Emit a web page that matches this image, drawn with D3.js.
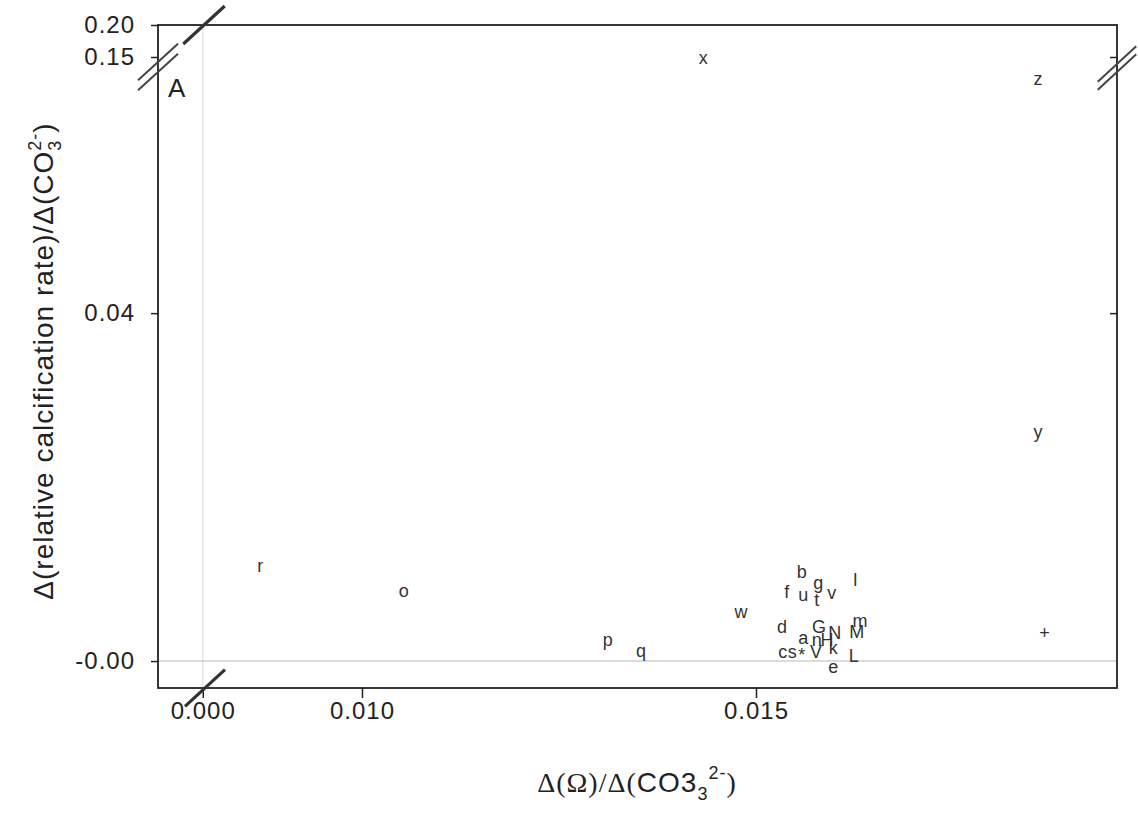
<!DOCTYPE html>
<html>
<head>
<meta charset="utf-8">
<script src="https://cdn.jsdelivr.net/npm/d3@7"></script>
<style>
  body { margin: 0; background: #fff; }
  svg text { font-family: "Liberation Sans", Arial, Helvetica, sans-serif; }
  .tick text { font-size: 24px; fill: #222; letter-spacing: 1px; }
  .tick line { stroke: #222; stroke-width: 1.5; }
  .pt { font-size: 18px; fill: #333; }
</style>
</head>
<body>
<div id="chart"></div>
<script>
// --- Data ---
const labels = ["x", "z", "y", "r", "o", "p", "q", "w", "+", "b", "g", "l", "f", "u", "t", "v",
                "d", "G", "N", "m", "M", "a", "n", "H", "c", "s", "*", "V", "k", "L", "e"];
const xVals = [0.01433, 0.01858, 0.01858, 0.00871, 0.01053, 0.01312, 0.01354, 0.01481, 0.01866,
               0.01558, 0.01579, 0.01626, 0.01539, 0.01560, 0.01577, 0.01596,
               0.01533, 0.01580, 0.01600, 0.01632, 0.01628, 0.01560, 0.01577, 0.01590,
               0.01534, 0.01546, 0.01558, 0.01576, 0.01598, 0.01624, 0.01598];
const yVals = [0.1484, 0.0669, 0.02632, 0.01092, 0.00805, 0.00241, 0.00115, 0.00563, 0.00322,
               0.01023, 0.00897, 0.00931, 0.00793, 0.00759, 0.00701, 0.00782,
               0.00391, 0.00391, 0.00322, 0.00460, 0.00333, 0.00264, 0.00241, 0.00241,
               0.00103, 0.00103, 0.00130, 0.00103, 0.00149, 0.00057, -0.00069];

const xTicks = [0.000, 0.010, 0.015];
const xTickLabels = ["0.000", "0.010", "0.015"];
const yTicks = [0.00, 0.04, 0.15, 0.20];
const yTickLabels = ["-0.00", "0.04", "0.15", "0.20"];

// broken-axis domains: [min, gapLow, gapHigh, max]
const xDomain = [-0.0006, 0.00003, 0.008008, 0.019581];
const yDomain = [-0.0031, 0.0683, 0.1344, 0.20];

const W = 1138, H = 813;
const pLeft = 158, pRight = 1117, pTop = 25, pBottom = 688;

const svg = d3.select("#chart").append("svg")
    .attr("width", W)
    .attr("height", H);

// piecewise scales with a gap at the break
const xGap = 205, yGap = 67;
const x = d3.scaleLinear().domain(xDomain).range([pLeft, xGap, xGap, pRight]);
const y = d3.scaleLinear().domain(yDomain).range([pBottom, yGap, yGap, pTop]);

// --- reference lines at zero ---
svg.append("line")
    .attr("x1", x(0)).attr("x2", x(0))
    .attr("y1", pTop).attr("y2", pBottom)
    .attr("stroke", "#e2e2e2").attr("stroke-width", 1.2);
svg.append("line")
    .attr("x1", pLeft).attr("x2", pRight)
    .attr("y1", y(0)).attr("y2", y(0))
    .attr("stroke", "#cfcfcf").attr("stroke-width", 1.5);

// --- axes ---
const xAxis = svg.append("g")
    .attr("transform", `translate(0,${pBottom})`)
    .call(d3.axisBottom(x).tickValues(xTicks).tickSize(10).tickPadding(4)
        .tickFormat((d, i) => xTickLabels[i]));
xAxis.select(".domain").remove();

const yAxis = svg.append("g")
    .attr("transform", `translate(${pLeft},0)`)
    .call(d3.axisLeft(y).tickValues(yTicks).tickSize(7).tickPadding(16)
        .tickFormat((d, i) => yTickLabels[i]));
yAxis.select(".domain").remove();

// right side: inward ticks, no labels
const yAxisR = svg.append("g")
    .attr("transform", `translate(${pRight},0)`)
    .call(d3.axisLeft(y).tickValues([0.04, 0.15]).tickSize(7).tickFormat(""));
yAxisR.select(".domain").remove();

// frame
svg.append("rect")
    .attr("x", pLeft).attr("y", pTop)
    .attr("width", pRight - pLeft).attr("height", pBottom - pTop)
    .attr("fill", "none").attr("stroke", "#222").attr("stroke-width", 1.8);

// --- axis break marks ---
function slash(cx, cy, len, w, col) {
    svg.append("line")
        .attr("x1", cx - len * 0.74).attr("y1", cy + len * 0.68)
        .attr("x2", cx + len * 0.74).attr("y2", cy - len * 0.68)
        .attr("stroke", col).attr("stroke-width", w);
}
slash(xGap - 1, pTop, 28, 3.2, "#333");
slash(xGap, pBottom, 27, 3.2, "#333");
slash(pLeft, yGap - 5, 27, 2, "#444");
slash(pLeft, yGap + 5, 27, 2, "#444");
slash(pRight, yGap - 3, 26, 2, "#444");
slash(pRight, yGap + 5, 26, 2, "#444");

// --- point labels ---
svg.selectAll(".pt")
    .data(labels.map((l, i) => ({ l, x: xVals[i], y: yVals[i] })))
    .enter().append("text")
    .attr("class", "pt")
    .attr("x", d => x(d.x))
    .attr("y", d => y(d.y))
    .attr("dy", d => d.l === "*" ? "0.6em" : "0.35em")
    .attr("text-anchor", "middle")
    .text(d => d.l);

// panel letter
svg.append("text")
    .attr("x", 168).attr("y", 97)
    .attr("font-size", 26).attr("fill", "#222")
    .attr("letter-spacing", 1)
    .text("A");

// --- axis titles ---
const yt = svg.append("text")
    .attr("transform", "translate(53,361) rotate(-90)")
    .attr("text-anchor", "middle")
    .attr("font-size", 28).attr("fill", "#222")
    .attr("letter-spacing", 1);
yt.append("tspan").text("Δ(relative calcification rate)/Δ(CO");
yt.append("tspan").attr("font-size", 18).attr("dy", 8).text("3");
yt.append("tspan").attr("font-size", 18).attr("dy", -20).attr("dx", -11).text("2-");
yt.append("tspan").attr("dy", 12).text(")");

const xt = svg.append("text")
    .attr("x", 637).attr("y", 792)
    .attr("text-anchor", "middle")
    .attr("font-size", 28).attr("fill", "#222")
    .attr("letter-spacing", 1);
xt.append("tspan").attr("font-family", "Liberation Serif, Times New Roman, serif").text("Δ(Ω)/Δ(");
xt.append("tspan").text("CO3");
xt.append("tspan").attr("font-size", 18).attr("dy", 8).text("3");
xt.append("tspan").attr("font-size", 18).attr("dy", -21).text("2-");
xt.append("tspan").attr("font-family", "Liberation Serif, Times New Roman, serif").attr("dy", 13).text(")");
</script>
</body>
</html>
